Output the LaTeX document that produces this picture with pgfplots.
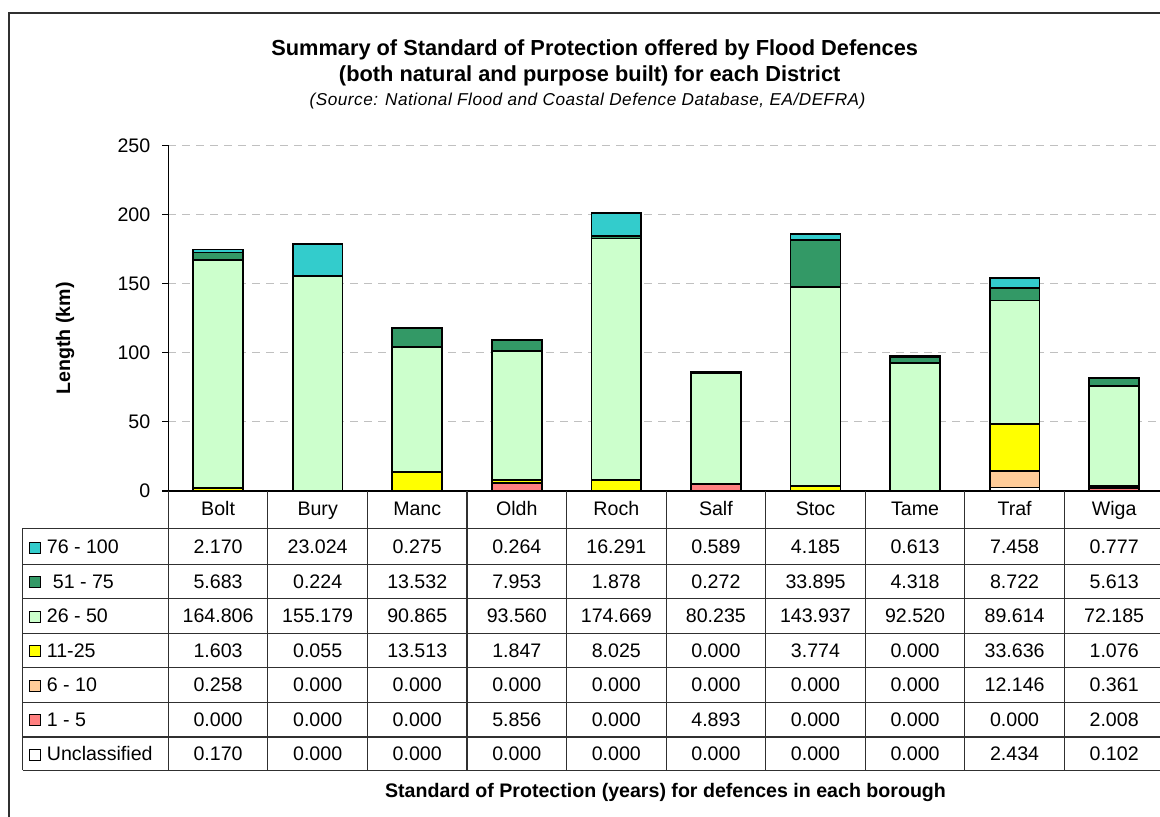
\documentclass[border=0pt]{standalone}
\usepackage{pgfplots}
\pgfplotsset{compat=1.18}
\usepackage{pgfplotstable}
\usepackage{fontspec}
\setmainfont{Liberation Sans}

% band colours, from the highest standard of protection down
\definecolor{sopA}{HTML}{33CCCC} % 76 - 100
\definecolor{sopB}{HTML}{339966} % 51 - 75
\definecolor{sopC}{HTML}{CCFFCC} % 26 - 50
\definecolor{sopD}{HTML}{FFFF00} % 11-25
\definecolor{sopE}{HTML}{FFCC99} % 6 - 10
\definecolor{sopF}{HTML}{FF8080} % 1 - 5
\definecolor{sopG}{HTML}{FFFFFF} % Unclassified
\definecolor{gridgrey}{HTML}{C0C0C0}
\definecolor{rulegrey}{HTML}{303030}

% length of defences (km) per district and standard of protection (years)
\pgfplotstableread{
dist u     p1    p6     p11    p26     p51    p76
Bolt 0.170 0.000 0.258  1.603  164.806 5.683  2.170
Bury 0.000 0.000 0.000  0.055  155.179 0.224  23.024
Manc 0.000 0.000 0.000  13.513 90.865  13.532 0.275
Oldh 0.000 5.856 0.000  1.847  93.560  7.953  0.264
Roch 0.000 0.000 0.000  8.025  174.669 1.878  16.291
Salf 0.000 4.893 0.000  0.000  80.235  0.272  0.589
Stoc 0.000 0.000 0.000  3.774  143.937 33.895 4.185
Tame 0.000 0.000 0.000  0.000  92.520  4.318  0.613
Traf 2.434 0.000 12.146 33.636 89.614  8.722  7.458
Wiga 0.102 2.008 0.361  1.076  72.185  5.613  0.777
}\sopdata

\newcommand{\bodysize}{\fontsize{9.8}{11.8}\selectfont}

\begin{document}
\begin{tikzpicture}
\path[use as bounding box] (0,0) rectangle (580pt,408.5pt);

\begin{axis}[
  at={(84.15pt,163pt)}, anchor=south west,
  scale only axis, width=497.8pt, height=172.85pt,
  ybar stacked, bar width=24.9pt,
  xmin=-0.5, xmax=9.5, ymin=0, ymax=250,
  xtick=\empty,
  ytick={0,50,...,250},
  ymajorgrids,
  grid style={gridgrey, line width=0.6pt, dash pattern=on 4pt off 3pt},
  axis x line*=bottom, axis y line*=left,
  axis line style={-, black, line width=0.6pt},
  tick align=outside, major tick length=3pt,
  tick style={black, line width=0.6pt},
  yticklabel style={font=\bodysize, xshift=-2.5pt},
  /pgf/number format/assume math mode=true,
  clip=false,
]
\addplot[draw=black, line width=0.85pt, fill=sopG] table[x expr=\coordindex, y=u]{\sopdata};
\addplot[draw=black, line width=0.85pt, fill=sopF] table[x expr=\coordindex, y=p1]{\sopdata};
\addplot[draw=black, line width=0.85pt, fill=sopE] table[x expr=\coordindex, y=p6]{\sopdata};
\addplot[draw=black, line width=0.85pt, fill=sopD] table[x expr=\coordindex, y=p11]{\sopdata};
\addplot[draw=black, line width=0.85pt, fill=sopC] table[x expr=\coordindex, y=p26]{\sopdata};
\addplot[draw=black, line width=0.85pt, fill=sopB] table[x expr=\coordindex, y=p51]{\sopdata};
\addplot[draw=black, line width=0.85pt, fill=sopA] table[x expr=\coordindex, y=p76]{\sopdata};
\end{axis}

% titles, frame and data table, in a grid of 0.5pt units measured from the top
\begin{scope}[yshift=408.5pt, x=0.5pt, y=-0.5pt]
  \draw[rulegrey, line width=0.85pt] (9,830) -- (9,13) -- (1175,13);

  \node[anchor=base, font=\fontsize{10.9}{13}\selectfont\bfseries] at (594.7,55.8)
    {Summary of Standard of Protection offered by Flood Defences};
  \node[anchor=base, font=\fontsize{10.9}{13}\selectfont\bfseries] at (589.7,81.5)
    {(both natural and purpose built) for each District};
  \node[anchor=base, font=\fontsize{8.6}{10}\selectfont\itshape\addfontfeature{LetterSpace=3}] at (587.5,106)
    {(Source: National Flood and Coastal Defence Database, EA/DEFRA)};

  \node[rotate=90, font=\bodysize\bfseries] at (65,338.3) {Length (km)};
  \node[anchor=base, font=\bodysize\bfseries] at (665.5,798)
    {Standard of Protection (years) for defences in each borough};

  % table rules
  \foreach \i in {0,...,10}
    \draw[rulegrey, line width=0.6pt] ({168.3+99.56*\i},491) -- ({168.3+99.56*\i},770.5);
  \foreach \yy in {528.3,564.3,598.6,633.2,667.9,702.4,737,770.5}
    \draw[rulegrey, line width=0.6pt] (22.7,\yy) -- (1175,\yy);
  \draw[rulegrey, line width=0.6pt] (22.7,528.3) -- (22.7,770.5);

  % district names
  \foreach \n [count=\i from 0] in {Bolt,Bury,Manc,Oldh,Roch,Salf,Stoc,Tame,Traf,Wiga}
    \node[anchor=base, inner sep=0pt, font=\bodysize] at ({218.1+99.56*\i},516) {\n};

  % legend keys and series names
  \foreach \c/\lab/\dx [count=\k from 0] in {sopA/76 - 100/46.5, sopB/51 - 75/52.5, sopC/26 - 50/46.5,
      sopD/11-25/46.5, sopE/6 - 10/46.5, sopF/1 - 5/46.5, sopG/Unclassified/46.5} {
    \pgfmathsetmacro{\bl}{553.8+34.5*\k}
    \draw[black, line width=0.5pt, fill=\c] (29.3,\bl-0.5) rectangle (40.2,\bl-11.3);
    \node[anchor=base west, inner sep=0pt, font=\bodysize] at (\dx,\bl) {\lab};
  }

  % values, read back from the same table that the bars use
  \foreach \col [count=\k from 0] in {p76,p51,p26,p11,p6,p1,u} {
    \foreach \r in {0,...,9} {
      \pgfplotstablegetelem{\r}{\col}\of\sopdata
      \node[anchor=base, inner sep=0pt, font=\bodysize] at ({218.1+99.56*\r},{553.8+34.5*\k}) {\pgfplotsretval};
    }
  }
\end{scope}
\end{tikzpicture}
\end{document}
